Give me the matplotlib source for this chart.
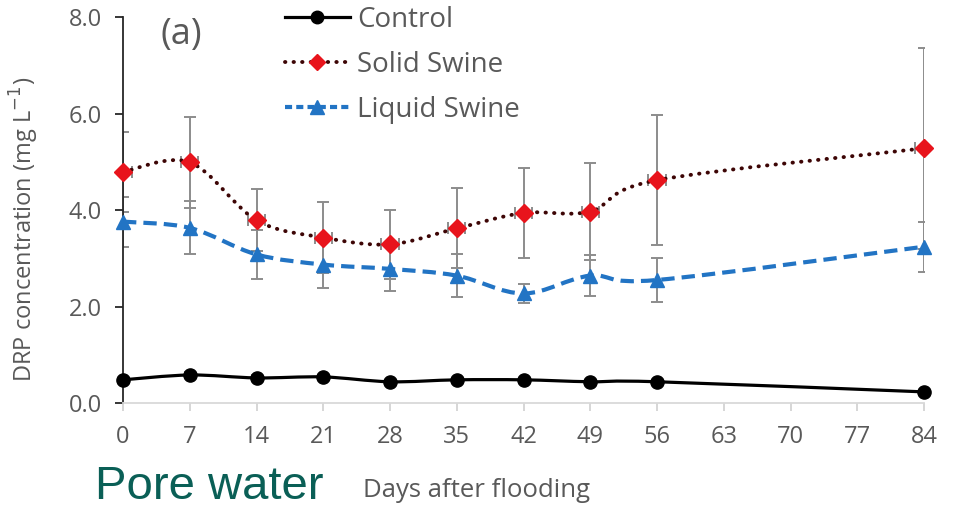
import numpy as np
import matplotlib.pyplot as plt
from matplotlib.path import Path
from matplotlib.patches import PathPatch
from matplotlib.lines import Line2D

plt.rcParams['font.family'] = ['Open Sans', 'DejaVu Sans']

days = [0, 7, 14, 21, 28, 35, 42, 49, 56, 84]
control = [0.48, 0.58, 0.52, 0.54, 0.44, 0.48, 0.48, 0.44, 0.44, 0.23]
control_err = [0.05, 0.07, 0.05, 0.04, 0.04, 0.04, 0.04, 0.04, 0.04, 0.04]
solid = [4.79, 4.99, 3.79, 3.43, 3.29, 3.62, 3.94, 3.97, 4.62, 5.28]
solid_err = [0.83, 0.94, 0.64, 0.73, 0.71, 0.83, 0.94, 1.00, 1.35, 2.08]
liquid = [3.76, 3.63, 3.08, 2.87, 2.78, 2.64, 2.27, 2.64, 2.55, 3.24]
liquid_err = [0.52, 0.55, 0.50, 0.49, 0.46, 0.44, 0.20, 0.42, 0.45, 0.52]
day_err = 0.9
xticks = np.arange(0, 85, 7)
yticks = [0, 2, 4, 6, 8]

gray = '#595959'
red_line = '#3d0505'
red = '#e8141c'
blue = '#2274c4'
bar = '#8c8c8c'


def smooth_path(x, y):
    # excel style smoothed line (catmull-rom as cubic bezier)
    n = len(x)
    verts = [(x[0], y[0])]
    codes = [Path.MOVETO]
    for i in range(n - 1):
        a = max(i - 1, 0)
        b = min(i + 2, n - 1)
        c1 = (x[i] + (x[i + 1] - x[a]) / 6, y[i] + (y[i + 1] - y[a]) / 6)
        c2 = (x[i + 1] - (x[b] - x[i]) / 6, y[i + 1] - (y[b] - y[i]) / 6)
        verts += [c1, c2, (x[i + 1], y[i + 1])]
        codes += [Path.CURVE4] * 3
    return Path(verts, codes)


fig = plt.figure(figsize=(9.61, 5.09), dpi=100)
ax = fig.add_axes([0.128, 0.2083, 0.8335, 0.758])

# error bars
ax.errorbar(days, solid, yerr=solid_err, xerr=day_err, fmt='none', ecolor=bar,
            elinewidth=1.4, capsize=4.5, capthick=1.4, zorder=2)
ax.errorbar(days, liquid, yerr=liquid_err, fmt='none', ecolor=bar,
            elinewidth=1.4, capsize=4.5, capthick=1.4, zorder=2)
ax.errorbar(days, control, yerr=control_err, fmt='none', ecolor=bar,
            elinewidth=1.4, capsize=4.5, capthick=1.4, zorder=2)

# smoothed lines
ax.add_patch(PathPatch(smooth_path(days, control), fill=False, edgecolor='black',
                       lw=2.3, zorder=3))
ax.add_patch(PathPatch(smooth_path(days, solid), fill=False, edgecolor=red_line,
                       lw=2.8, linestyle=(0, (0.1, 2.1)), capstyle='round', zorder=3))
ax.add_patch(PathPatch(smooth_path(days, liquid), fill=False, edgecolor=blue,
                       lw=3.0, linestyle=(0, (3.2, 1.7)), zorder=3))

# markers
ax.plot(days, control, 'o', color='black', ms=9.5, clip_on=False, zorder=4)
ax.plot(days, solid, 'D', color=red, ms=9, clip_on=False, zorder=4)
ax.plot(days, liquid, '^', color=blue, ms=10.5, clip_on=False, zorder=4)

ax.set_xlim(0, 84)
ax.set_ylim(0, 8)
ax.set_xticks(xticks)
ax.set_yticks(yticks)
ax.set_yticklabels(['%.1f' % v for v in yticks])

for s in ['top', 'right']:
    ax.spines[s].set_visible(False)
ax.spines['bottom'].set_color('#d9d9d9')
ax.spines['bottom'].set_linewidth(1.3)
ax.spines['left'].set_color('#262626')
ax.spines['left'].set_linewidth(1.3)
ax.tick_params(axis='x', colors='#d0d0d0', length=6, width=1.2, pad=10,
               labelcolor=gray, labelsize=17)
ax.tick_params(axis='y', colors='#262626', length=6, width=1.3, pad=9,
               labelcolor=gray, labelsize=17)

ax.set_ylabel('DRP concentration (mg L$^{-1}$)', color=gray, fontsize=17)
ax.yaxis.set_label_coords(-0.103, 0.45)

ax.text(0.073, 0.955, '(a)', transform=ax.transAxes, color=gray, fontsize=26,
        ha='center', va='center')

handles = [
    Line2D([], [], color='black', lw=2.3, marker='o', ms=9),
    Line2D([], [], color=red_line, lw=2.8, linestyle=(0, (0.1, 2.1)),
           dash_capstyle='round', marker='D', ms=8.5, mfc=red, mec=red),
    Line2D([], [], color=blue, lw=3.0, linestyle=(0, (1.7, 1.0)),
           marker='^', ms=10, mfc=blue, mec=blue),
]
ax.legend(handles, ['Control', 'Solid Swine', 'Liquid Swine'], loc='upper left',
          bbox_to_anchor=(0.202, 1.03), frameon=False, fontsize=20,
          labelcolor=gray, handlelength=2.35, handletextpad=0.25,
          labelspacing=0.62, borderpad=0, borderaxespad=0)

fig.text(477 / 961, 1 - 497 / 509, 'Days after flooding', color=gray,
         fontsize=18.5, ha='center', va='baseline')
fig.text(95 / 961, 0.0, 'Pore water', color='#0a5f56', fontsize=34,
         family='Liberation Sans', ha='left', va='bottom')

fig.savefig('out.png', dpi=100)
